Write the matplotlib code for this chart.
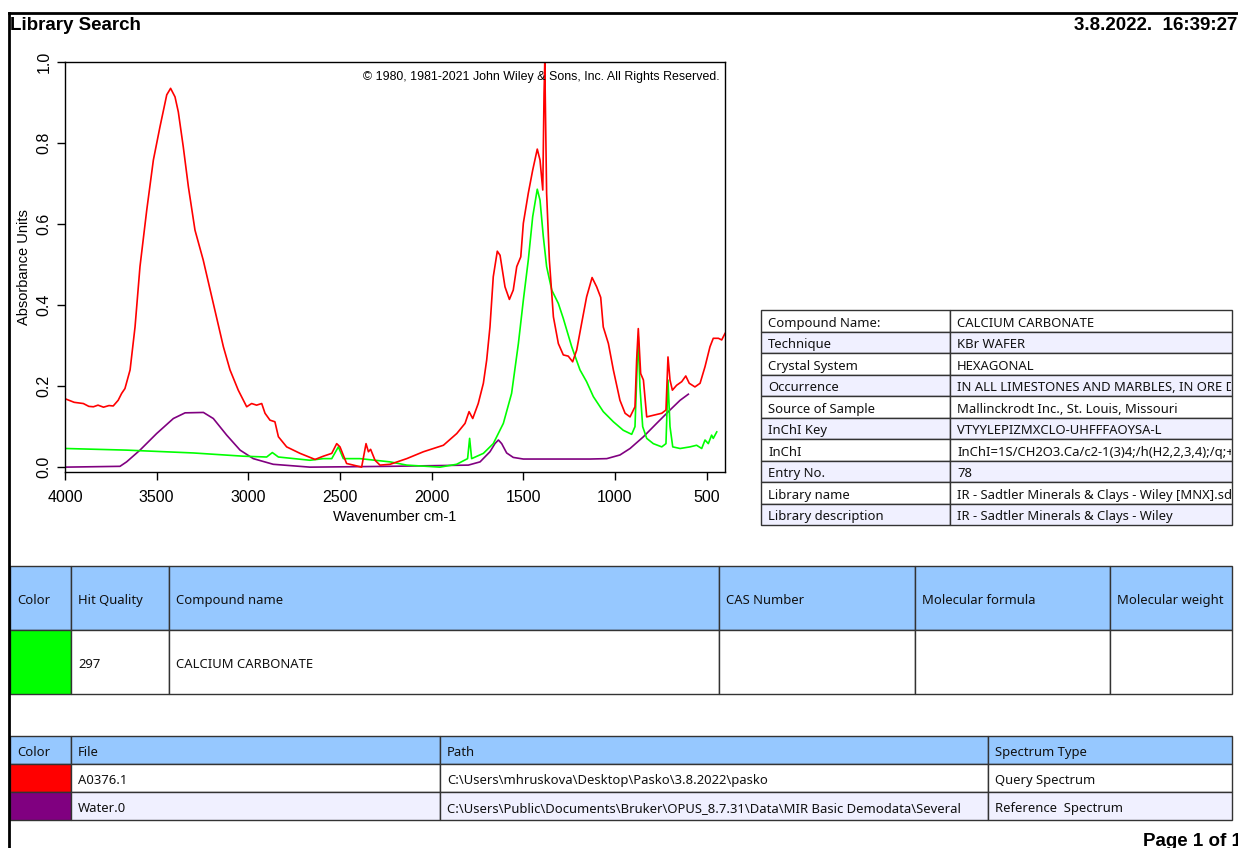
import matplotlib.pyplot as plt
from matplotlib.patches import Rectangle
from matplotlib.transforms import Bbox, TransformedBbox

# spectra (wavenumber cm-1, absorbance)
wn_query = [3995, 3950, 3900, 3870, 3845, 3820, 3790, 3760, 3737, 3710, 3691, 3673, 3645, 3618, 3591,
            3554, 3518, 3482, 3445, 3424, 3400, 3382, 3355, 3327, 3291, 3246, 3191, 3136, 3100, 3055,
            3009, 2982, 2955, 2927, 2909, 2882, 2855, 2836, 2791, 2718, 2636, 2591, 2545, 2518, 2500,
            2464, 2427, 2382, 2358, 2345, 2333, 2309, 2282, 2227, 2136, 2045, 1936, 1863, 1818, 1796,
            1776, 1746, 1718, 1700, 1682, 1664, 1642, 1627, 1600, 1576, 1555, 1536, 1514, 1500, 1473,
            1449, 1424, 1409, 1394, 1387, 1383, 1373, 1358, 1336, 1309, 1282, 1255, 1231, 1209, 1182,
            1155, 1125, 1100, 1078, 1064, 1036, 1009, 973, 945, 918, 891, 882, 873, 860, 845, 827, 791,
            745, 722, 711, 700, 687, 664, 636, 614, 595, 564, 536, 509, 482, 464, 436, 418, 400]
abs_query = [0.168, 0.160, 0.157, 0.150, 0.149, 0.153, 0.148, 0.152, 0.151, 0.165, 0.182, 0.194, 0.240, 0.346, 0.495,
             0.635, 0.758, 0.840, 0.919, 0.935, 0.914, 0.877, 0.791, 0.692, 0.585, 0.511, 0.404, 0.297, 0.240, 0.190,
             0.149, 0.157, 0.153, 0.157, 0.133, 0.116, 0.112, 0.075, 0.050, 0.034, 0.019, 0.027, 0.034, 0.058, 0.050,
             0.009, 0.005, 0.000, 0.058, 0.038, 0.044, 0.017, 0.005, 0.007, 0.021, 0.038, 0.054, 0.083, 0.108, 0.137,
             0.120, 0.157, 0.207, 0.264, 0.346, 0.470, 0.533, 0.523, 0.445, 0.414, 0.437, 0.495, 0.519, 0.602, 0.676,
             0.733, 0.785, 0.758, 0.684, 0.923, 1.000, 0.676, 0.511, 0.371, 0.305, 0.277, 0.274, 0.260, 0.289, 0.355,
             0.420, 0.468, 0.445, 0.419, 0.346, 0.305, 0.240, 0.165, 0.133, 0.124, 0.149, 0.264, 0.342, 0.231, 0.215,
             0.124, 0.128, 0.133, 0.141, 0.272, 0.215, 0.190, 0.202, 0.211, 0.225, 0.207, 0.198, 0.207, 0.248, 0.297,
             0.318, 0.318, 0.314, 0.330]

wn_hit = [3995, 3664, 3300, 3027, 2900, 2869, 2836, 2664, 2591, 2545, 2509, 2482, 2391, 2227, 2136, 1955,
          1864, 1804, 1793, 1782, 1718, 1664, 1609, 1564, 1527, 1500, 1473, 1449, 1424, 1409, 1391, 1373,
          1345, 1309, 1282, 1236, 1191, 1155, 1118, 1064, 1009, 955, 909, 891, 878, 873, 864, 849, 827, 791,
          745, 722, 711, 700, 685, 645, 591, 555, 527, 509, 491, 473, 464, 445]
abs_hit = [0.046, 0.042, 0.035, 0.027, 0.025, 0.036, 0.025, 0.017, 0.021, 0.021, 0.050, 0.021, 0.021, 0.013, 0.005, 0.000,
           0.007, 0.021, 0.071, 0.021, 0.034, 0.058, 0.108, 0.182, 0.305, 0.412, 0.511, 0.618, 0.686, 0.659, 0.569, 0.495,
           0.437, 0.404, 0.367, 0.297, 0.240, 0.211, 0.174, 0.137, 0.112, 0.091, 0.081, 0.100, 0.264, 0.322, 0.198, 0.100,
           0.071, 0.058, 0.050, 0.058, 0.215, 0.100, 0.050, 0.046, 0.050, 0.054, 0.046, 0.067, 0.058, 0.079, 0.071, 0.087]

wn_water = [4000, 3700, 3664, 3591, 3500, 3409, 3345, 3245, 3191, 3118, 3045, 2973, 2864, 2664, 2227, 1800,
            1736, 1682, 1655, 1636, 1618, 1591, 1555, 1500, 1136, 1045, 973, 918, 845, 773, 700, 645, 600]
abs_water = [0.000, 0.002, 0.013, 0.042, 0.083, 0.120, 0.134, 0.135, 0.120, 0.079, 0.042, 0.021, 0.007, 0.000, 0.002, 0.005,
             0.013, 0.038, 0.058, 0.067, 0.058, 0.035, 0.024, 0.020, 0.020, 0.021, 0.030, 0.046, 0.075, 0.108, 0.141, 0.165, 0.180]

y_ticks = [0.0, 0.2, 0.4, 0.6, 0.8, 1.0]
x_ticks = [4000, 3500, 3000, 2500, 2000, 1500, 1000, 500]

info_labels = ['Compound Name:', 'Technique', 'Crystal System', 'Occurrence', 'Source of Sample',
               'InChI Key', 'InChI', 'Entry No.', 'Library name', 'Library description']
info_values = ['CALCIUM CARBONATE', 'KBr WAFER', 'HEXAGONAL', 'IN ALL LIMESTONES AND MARBLES, IN ORE DEPOSITS',
               'Mallinckrodt Inc., St. Louis, Missouri', 'VTYYLEPIZMXCLO-UHFFFAOYSA-L',
               'InChI=1S/CH2O3.Ca/c2-1(3)4;/h(H2,2,3,4);/q;+2/p-2', '78',
               'IR - Sadtler Minerals & Clays - Wiley [MNX].sdb', 'IR - Sadtler Minerals & Clays - Wiley']

hit_headers = ['Color', 'Hit Quality', 'Compound name', 'CAS Number', 'Molecular formula', 'Molecular weight']
hit_row = ['', '297', 'CALCIUM CARBONATE', '', '', '']
hit_colors = ['#00ff00']

file_headers = ['Color', 'File', 'Path', 'Spectrum Type']
file_rows = [['', 'A0376.1', r'C:\Users\mhruskova\Desktop\Pasko\3.8.2022\pasko', 'Query Spectrum'],
             ['', 'Water.0', r'C:\Users\Public\Documents\Bruker\OPUS_8.7.31\Data\MIR Basic Demodata\Several', 'Reference  Spectrum']]
file_colors = ['#ff0000', '#800080']

W, H = 1238, 848
HEAD = '#96c8ff'
LAV = '#f0f0ff'
TFONT = 'Noto Sans'

fig = plt.figure(figsize=(W / 100, H / 100), dpi=100)
page = fig.add_axes([0, 0, 1, 1])
page.set_xlim(0, W)
page.set_ylim(H, 0)
page.axis('off')

# page frame and header
page.plot([9, W], [13, 13], color='black', lw=2)
page.plot([9, 9], [13, H], color='black', lw=2)
page.text(10, 26, 'Library Search', fontsize=13.5, fontweight='bold', family='Liberation Sans', va='center')
page.text(1237, 26, '3.8.2022.  16:39:27', fontsize=13.5, fontweight='bold', family='Liberation Sans',
          va='center', ha='right')
page.text(1143, 841, 'Page 1 of 1', fontsize=13.5, fontweight='bold', family='Liberation Sans', va='center')


def cell(x0, x1, y0, y1, text='', face='white', edge='#333333'):
    r = Rectangle((x0, y0), x1 - x0, y1 - y0, facecolor=face, edgecolor=edge, lw=1)
    page.add_patch(r)
    if text:
        t = page.text(x0 + 7, (y0 + y1) / 2 + 2.5, text, fontsize=9.4, family=TFONT, va='center',
                      color='#111111')
        t.set_clip_on(True)
        t.set_clip_box(TransformedBbox(Bbox([[x0, y0], [x1 - 1, y1]]), page.transData))


# compound info table
rh = (525 - 310) / len(info_labels)
for i, (lab, val) in enumerate(zip(info_labels, info_values)):
    y0 = 310 + i * rh
    face = 'white' if i % 2 == 0 else LAV
    cell(761, 950, y0, y0 + rh, lab, face)
    cell(950, 1232, y0, y0 + rh, val, face)

# hit table
hit_cols = [10, 71, 169, 719, 915, 1110, 1232]
for j, txt in enumerate(hit_headers):
    cell(hit_cols[j], hit_cols[j + 1], 566, 630, txt, HEAD)
for j, txt in enumerate(hit_row):
    face = hit_colors[0] if j == 0 else 'white'
    cell(hit_cols[j], hit_cols[j + 1], 630, 694, txt, face)

# file table
file_cols = [10, 71, 440, 988, 1232]
for j, txt in enumerate(file_headers):
    cell(file_cols[j], file_cols[j + 1], 736, 764, txt, HEAD)
for i, row in enumerate(file_rows):
    y0 = 764 + i * 28
    for j, txt in enumerate(row):
        face = file_colors[i] if j == 0 else ('white' if i == 0 else LAV)
        cell(file_cols[j], file_cols[j + 1], y0, y0 + 28, txt, face)

# spectrum plot
ax = fig.add_axes([65 / W, (H - 472) / H, (725 - 65) / W, (472 - 62) / H])
ax.plot(wn_water, abs_water, color='#800080', lw=1.2)
ax.plot(wn_hit, abs_hit, color='#00ff00', lw=1.2)
ax.plot(wn_query, abs_query, color='#ff0000', lw=1.2)
ax.set_xlim(4000, 400)
ax.set_ylim(-0.012, 1.0)
ax.set_xticks(x_ticks)
ax.set_yticks(y_ticks)
ax.set_xticklabels([str(v) for v in x_ticks], family='Liberation Sans', fontsize=11.5)
ax.set_yticklabels(['%.1f' % v for v in y_ticks], family='Liberation Sans', fontsize=11.5,
                   rotation=90, va='center')
ax.tick_params(length=5.8, width=1)
ax.tick_params(axis='x', pad=7)
ax.tick_params(axis='y', pad=4)
ax.set_xlabel('Wavenumber cm-1', family='Liberation Sans', fontsize=10.5, labelpad=4)
ax.set_ylabel('Absorbance Units', family='Liberation Sans', fontsize=10.5, labelpad=4)
for s in ax.spines.values():
    s.set_linewidth(1)
ax.text(0.992, 0.978, '\u00a9 1980, 1981-2021 John Wiley & Sons, Inc. All Rights Reserved.',
        transform=ax.transAxes, ha='right', va='top', fontsize=8.9, family='Liberation Sans')

fig.savefig('out.png', dpi=100)
